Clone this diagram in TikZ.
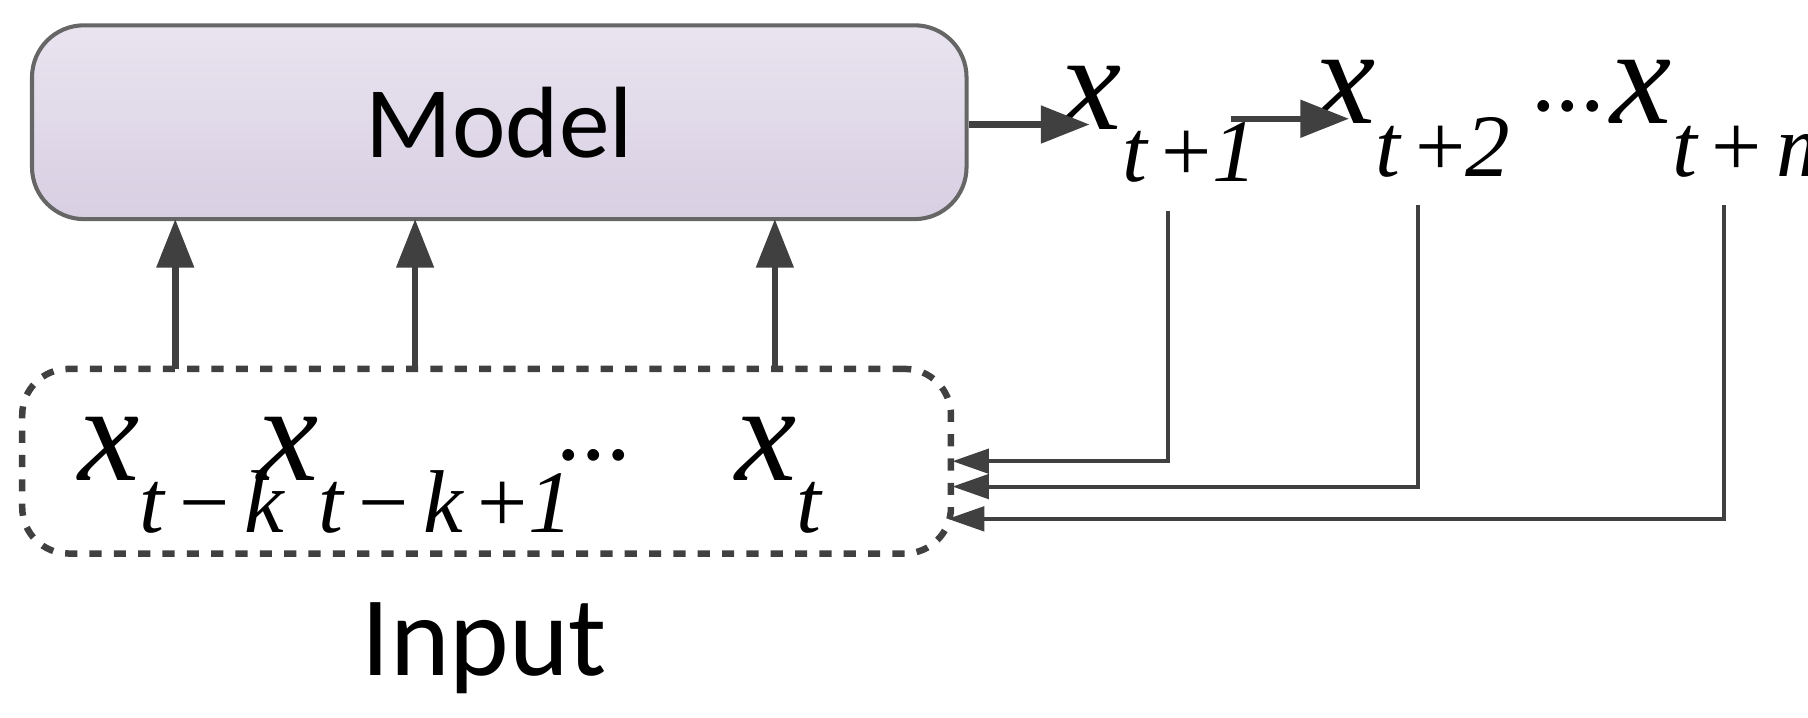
\documentclass[tikz,border=0pt]{standalone}
\usepackage{fontspec}
\setmainfont{Carlito}
\newfontfamily\tms{Liberation Serif}
\usetikzlibrary{arrows.meta}
\definecolor{topc}{RGB}{233,228,240}
\definecolor{botc}{RGB}{216,207,226}
\newcommand{\myx}[1]{{\tms\fontsize{34}{40}\selectfont\itshape x\raisebox{-0.38em}{\fontsize{22}{26}\selectfont #1}}}
\begin{document}
\begin{tikzpicture}[x=0.01cm,y=-0.01cm,
  ar/.style={draw=black!75,line width=1.6pt,-{Triangle[length=12pt,width=9pt]}},
  fb/.style={draw=black!75,line width=1pt,-{Triangle[length=9pt,width=6pt]}},
  mth/.style={inner sep=0pt},
  dots/.style={font=\fontsize{24}{28}\selectfont,inner sep=0pt}]
\useasboundingbox (0,0) rectangle (1568,622);
\node[draw=black!60,line width=1pt,rounded corners=0.45cm,top color=topc,bottom color=botc,
  minimum width=8.1cm,minimum height=1.68cm] (model) at (433,106)
  {\fontsize{25}{30}\selectfont Model};
\node[draw=black!75,dashed,line width=1.6pt,rounded corners=0.4cm,minimum width=8.05cm,minimum height=1.6cm] (input) at (422,400) {};
\node[mth] (a) at (157,412) {\myx{t\,\textup{−}\,k}};
\node[mth] (b) at (360,412) {\myx{t\,\textup{−}\,k\,\textup{+}1}};
\node[dots] (d1) at (515,395) {...};
\node[mth] (c) at (675,412) {\myx{t}};
\node[font=\fontsize{28}{34}\selectfont] (inlab) at (420,562) {Input};
\node[mth] (y1) at (1005,108) {\myx{t\,\textup{+}1}};
\node[mth] (y2) at (1225,103) {\myx{t\,\textup{+}2}};
\node[dots] (d2) at (1360,92) {...};
\node[mth] (ym) at (1497,103) {\myx{t\,\textup{+}\,m}};
\draw[ar] (model.east|-0,108) -- (945,108);
\draw[ar] (1068,103) -- (1170,103);
\foreach \xx in {152,360,672}{\draw[ar] (\xx,320) -- (\xx,190);}
\coordinate (f1) at (1013,183);
\coordinate (f2) at (1230,178);
\coordinate (f3) at (1495,178);
\draw[fb] (f1) |- (826,400);
\draw[fb] (f2) |- (826,422);
\draw[fb] (f3) |- (822,450);
\end{tikzpicture}
\end{document}
